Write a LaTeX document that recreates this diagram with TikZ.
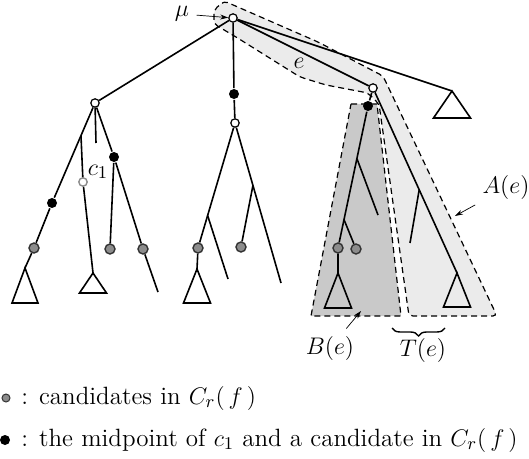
\documentclass[tikz,border=0pt]{standalone}
\usepackage{tikz}
\usepackage{xcolor}
\usepackage{amsmath}
\usetikzlibrary{arrows.meta, calc, decorations.pathreplacing}

\tikzset{
  vtx/.style={circle, draw, fill=white, line width=0.6pt, inner sep=0pt, minimum size=4.2pt},
  firstc/.style={circle, draw=black!45, fill=white, line width=0.7pt, inner sep=0pt, minimum size=4.2pt},
  mid/.style={circle, fill=black, inner sep=0pt, minimum size=5pt},
  cand/.style={circle, draw=black!80, fill=black!45, line width=0.7pt, inner sep=0pt, minimum size=5pt},
  region/.style={dash pattern=on 3pt off 2pt, line width=0.6pt},
  pointer/.style={-{Stealth[length=4pt, width=2.5pt]}, line width=0.35pt}
}
\newcommand{\subtri}[3]{\draw (#1) -- ++(-#2,#3) -- ++({2*#2},0) -- cycle;}

\begin{document}
\begin{tikzpicture}[x=0.5pt, y=-0.5pt, line width=0.8pt, font=\fontsize{12.5}{14}\selectfont]
    \useasboundingbox (0,0) rectangle (529,459);

    % regions A(e) and B(e)
    \draw[region, fill=black!8, rounded corners=2pt] (214,24) -- (214,10) -- (224,1) -- (318,42)
        -- (383,76) -- (497,316) -- (409,316) -- (379,104) -- (368,93) -- (326,85) -- (300,77)
        -- (236,37) -- cycle;
    \draw[region, fill=black!21] (351,104) -- (377,104) -- (401,316) -- (311,316) -- cycle;

    % top of the tree
    \node[vtx] (mu) at (233,18) {};
    \node[vtx] (u1) at (95,103) {};
    \node[mid] (m0) at (234,94) {};
    \node[vtx] (u2) at (235,123) {};
    \node[vtx] (ue) at (373,88) {};
    \coordinate (r) at (452,91);
    \draw (mu) -- (u1);
    \draw (mu) -- (m0) -- (u2);
    \draw (mu) -- (ue);
    \draw (mu) -- (r);
    \subtri{r}{18.5}{27}

    % left subtree
    \node[mid] (b1) at (52,203) {};
    \node[cand] (g1) at (34,248) {};
    \coordinate (t1) at (25,268);
    \draw (u1) -- (b1) -- (g1) -- (t1);
    \subtri{t1}{13}{35}
    \coordinate (p1) at ($(u1)!0.2!(t1)$);
    \node[firstc] (c1) at (83,182) {};
    \coordinate (t2) at (93,273);
    \draw (p1) -- (c1) -- (t2);
    \subtri{t2}{13.5}{20}
    \node (c1lab) at (98,172) {$c_1$};
    \coordinate (s1) at (96,143);
    \draw (u1) -- (s1);
    \node[mid] (b2) at (114,157) {};
    \node[cand] (g2) at (110,249) {};
    \node[cand] (g3) at (143,249) {};
    \coordinate (s2) at (158,292);
    \draw (u1) -- (b2) -- (g3) -- (s2);
    \draw (b2) -- (g2);

    % middle subtree
    \node[cand] (g4) at (198,248) {};
    \coordinate (t3) at (197,269);
    \draw (u2) -- (g4) -- (t3);
    \subtri{t3}{13.5}{34}
    \coordinate (p2) at ($(u2)!0.74!(g4)$);
    \coordinate (s3) at (228,279);
    \draw (p2) -- (s3);
    \coordinate (s4) at (281,283);
    \draw (u2) -- (s4);
    \coordinate (p3) at ($(u2)!0.39!(s4)$);
    \node[cand] (g5) at (241,247) {};
    \draw (p3) -- (g5);

    % B(e)
    \node[mid] (b3) at (368,106) {};
    \draw (ue) -- (b3);
    \node[cand] (g6) at (338,248) {};
    \node[cand] (g7) at (356,249) {};
    \coordinate (t4) at (338,273);
    \draw (b3) -- (g6) -- (t4);
    \subtri{t4}{13.5}{35}
    \coordinate (p4) at ($(b3)!0.37!(g6)$);
    \coordinate (s5) at (378,215);
    \draw (p4) -- (s5);
    \coordinate (p5) at ($(b3)!0.8!(g6)$);
    \draw (p5) -- (g7);

    % T(e)
    \coordinate (t5) at (457,273);
    \draw (ue) -- (t5);
    \subtri{t5}{13.5}{34}
    \coordinate (p6) at ($(ue)!0.55!(t5)$);
    \coordinate (s6) at (410,243);
    \draw (p6) -- (s6);

    % labels
    \node (mulab) at (182,14) {$\mu$};
    \draw[pointer] (mulab) -- (mu);
    \node (elab) at (299,63) {$e$};
    \node (alab) at (506,188) {$A(e)$};
    \coordinate (aend) at (455,216);
    \draw[pointer] (alab) -- (aend);
    \node (blab) at (330,348) {$B(e)$};
    \coordinate (bend) at (361,311);
    \draw[pointer] (blab) -- (bend);
    \node (tlab) at (423,350) {$T(e)$};
    \draw[decorate, decoration={brace, mirror, amplitude=4pt}, line width=0.7pt] (392,328) -- (445,328);

    % legend
    \node[cand, minimum size=4pt, line width=0.5pt] (lg) at (6,398) {};
    \node[anchor=west] (lgt) at (14,398) {: candidates in $C_r(\,f\,)$};
    \node[mid] (lm) at (5,440) {};
    \node[anchor=west] (lmt) at (14,440) {: the midpoint of $c_1$ and a candidate in $C_r(\,f\,)$};
\end{tikzpicture}
\end{document}
